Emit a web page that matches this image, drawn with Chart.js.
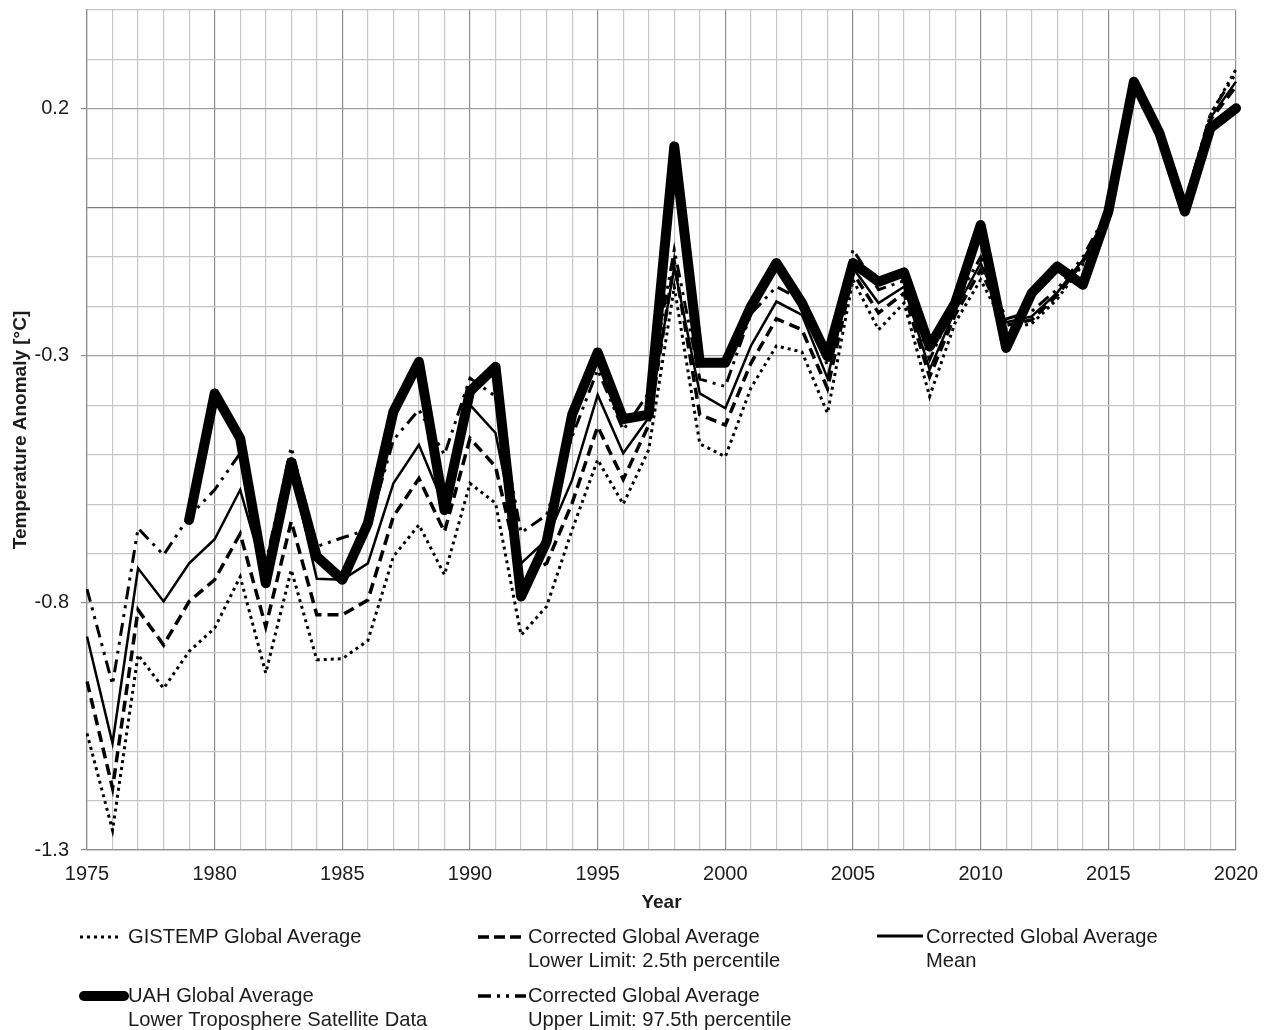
<!DOCTYPE html>
<html>
<head>
<meta charset="utf-8">
<title>Global temperature anomaly 1975–2020</title>
<script src="https://cdn.jsdelivr.net/npm/chart.js@4.4.0/dist/chart.umd.min.js"></script>
<style>
  html, body { margin: 0; padding: 0; background: #ffffff; }
  #wrap { position: relative; width: 1271px; height: 1030px; overflow: hidden; }
  #box { position: absolute; left: 0; top: 0; width: 1271px; height: 1030px; }
  .leg { position: absolute; font-family: "Liberation Sans", Arial, sans-serif; font-size: 21px;
         line-height: 24px; color: #1c1c1c; }
  .leg svg { position: absolute; left: 0; overflow: visible; }
  .leg .t { position: absolute; white-space: nowrap; transform: scaleX(0.96); transform-origin: 0 0; }
</style>
</head>
<body>
<div id="wrap">
  <div id="box"><canvas id="chart"></canvas></div>

  <div class="leg" style="left:78px; top:924px;">
    <svg width="46" height="24"><line x1="2" y1="13" x2="44" y2="13" stroke="#000" stroke-width="3" stroke-dasharray="3 4"/></svg>
    <div class="t" style="left:50px;">GISTEMP Global Average</div>
  </div>
  <div class="leg" style="left:478px; top:924px;">
    <svg width="46" height="24"><line x1="0" y1="13" x2="44" y2="13" stroke="#000" stroke-width="3.5" stroke-dasharray="11 5"/></svg>
    <div class="t" style="left:50px;">Corrected Global Average<br>Lower Limit: 2.5th percentile</div>
  </div>
  <div class="leg" style="left:877px; top:924px;">
    <svg width="46" height="24"><line x1="0" y1="12" x2="46" y2="12" stroke="#000" stroke-width="3"/></svg>
    <div class="t" style="left:49px;">Corrected Global Average<br>Mean</div>
  </div>
  <div class="leg" style="left:78px; top:983px;">
    <svg width="50" height="24"><line x1="6" y1="13" x2="46" y2="13" stroke="#000" stroke-width="10" stroke-linecap="round"/></svg>
    <div class="t" style="left:50px;">UAH Global Average<br>Lower Troposphere Satellite Data</div>
  </div>
  <div class="leg" style="left:478px; top:983px;">
    <svg width="50" height="24"><line x1="0" y1="13" x2="48" y2="13" stroke="#000" stroke-width="3.5" stroke-dasharray="13 6 3 6 3 6"/></svg>
    <div class="t" style="left:50px;">Corrected Global Average<br>Upper Limit: 97.5th percentile</div>
  </div>
</div>

<script>
// Years on the horizontal axis
const years = [
  '1975','1976','1977','1978','1979','1980','1981','1982','1983','1984',
  '1985','1986','1987','1988','1989','1990','1991','1992','1993','1994',
  '1995','1996','1997','1998','1999','2000','2001','2002','2003','2004',
  '2005','2006','2007','2008','2009','2010','2011','2012','2013','2014',
  '2015','2016','2017','2018','2019','2020'
];

// Temperature anomaly series [°C]
const gistemp = [
  -1.064, -1.260, -0.905, -0.973, -0.898, -0.851, -0.747, -0.942, -0.733, -0.915,
  -0.913, -0.876, -0.706, -0.642, -0.743, -0.558, -0.598, -0.865, -0.807, -0.652,
  -0.510, -0.600, -0.490, -0.160, -0.478, -0.504, -0.365, -0.280, -0.292, -0.416,
  -0.146, -0.247, -0.193, -0.382, -0.233, -0.146, -0.245, -0.235, -0.185, -0.115,
  -0.012,  0.245,  0.155,  0.010,  0.188,  0.280
];

const correctedLower = [
  -0.959, -1.175, -0.814, -0.885, -0.797, -0.753, -0.660, -0.848, -0.635, -0.824,
  -0.824, -0.794, -0.625, -0.548, -0.656, -0.467, -0.524, -0.747, -0.720, -0.598,
  -0.443, -0.550, -0.440, -0.110, -0.419, -0.440, -0.315, -0.225, -0.247, -0.366,
  -0.132, -0.213, -0.173, -0.342, -0.217, -0.126, -0.238, -0.227, -0.177, -0.110,
  -0.012,  0.242,  0.150,  0.008,  0.178,  0.245
];

const correctedMean = [
  -0.868, -1.084, -0.730, -0.797, -0.720, -0.671, -0.571, -0.753, -0.530, -0.751,
  -0.753, -0.720, -0.558, -0.480, -0.605, -0.399, -0.456, -0.720, -0.672, -0.551,
  -0.379, -0.497, -0.425, -0.120, -0.376, -0.406, -0.280, -0.190, -0.217, -0.345,
  -0.122, -0.193, -0.160, -0.328, -0.207, -0.112, -0.232, -0.220, -0.172, -0.106,
  -0.010,  0.248,  0.155,  0.004,  0.182,  0.255
];

const correctedUpper = [
  -0.772, -0.965, -0.649, -0.703, -0.625, -0.571, -0.497, -0.720, -0.485, -0.686,
  -0.668, -0.652, -0.470, -0.409, -0.500, -0.345, -0.382, -0.658, -0.622, -0.463,
  -0.328, -0.450, -0.375, -0.085, -0.347, -0.362, -0.215, -0.160, -0.187, -0.320,
  -0.085, -0.166, -0.148, -0.308, -0.193, -0.100, -0.225, -0.210, -0.165, -0.100,
  -0.005,  0.250,  0.160,  0.012,  0.190,  0.272
];

// Satellite record starts in 1979
const uah = [
   null,   null,   null,   null, -0.632, -0.376, -0.467, -0.760, -0.515, -0.706,
  -0.753, -0.639, -0.413, -0.312, -0.612, -0.372, -0.322, -0.787, -0.676, -0.419,
  -0.293, -0.428, -0.419,  0.124, -0.314, -0.314, -0.200, -0.112, -0.193, -0.301,
  -0.112, -0.150, -0.131, -0.281, -0.193, -0.035, -0.284, -0.173, -0.119, -0.156,
  -0.008,  0.255,  0.151, -0.008,  0.161,  0.201
];

// Labelled y ticks (tenths of a degree)
const yLabelTenths = [-13, -8, -3, 2];

const FONT = '"Liberation Sans", Arial, sans-serif';
const INK = '#1c1c1c';

new Chart(document.getElementById('chart'), {
  type: 'line',
  data: {
    labels: years,
    datasets: [
      { label: 'UAH Global Average', data: uah, borderColor: '#000', borderWidth: 10,
        borderJoinStyle: 'round', borderCapStyle: 'round', order: 5 },
      { label: 'GISTEMP Global Average', data: gistemp, borderColor: '#000', borderWidth: 3,
        borderDash: [3, 4], order: 4 },
      { label: 'Corrected Global Average Lower Limit', data: correctedLower, borderColor: '#000',
        borderWidth: 3.5, borderDash: [11, 6], order: 3 },
      { label: 'Corrected Global Average Upper Limit', data: correctedUpper, borderColor: '#000',
        borderWidth: 3, borderDash: [13, 6, 3, 6, 3, 6], order: 2 },
      { label: 'Corrected Global Average Mean', data: correctedMean, borderColor: '#000',
        borderWidth: 2.5, order: 1 }
    ]
  },
  options: {
    responsive: true,
    maintainAspectRatio: false,
    animation: false,
    events: [],
    elements: { point: { radius: 0 }, line: { tension: 0, fill: false } },
    layout: { padding: { left: 0, top: 10, right: 35, bottom: 116 } },
    plugins: { legend: { display: false }, tooltip: { enabled: false } },
    scales: {
      x: {
        type: 'category',
        offset: false,
        ticks: {
          autoSkip: false, maxRotation: 0, minRotation: 0, padding: 12, color: INK,
          font: { family: FONT, size: 20 },
          callback: (v, i) => (i % 5 === 0 ? years[i] : '')
        },
        grid: {
          offset: false, drawTicks: false, lineWidth: 1.2,
          color: c => (c.index % 5 === 0 ? '#8e8e8e' : '#c6c6c6')
        },
        border: { color: '#8e8e8e', width: 1.2 },
        title: { display: true, text: 'Year', color: INK, padding: 0,
                 font: { family: FONT, size: 19, weight: 'bold' } },
        afterFit: s => { s.height = 64; }
      },
      y: {
        min: -1.3, max: 0.4,
        ticks: {
          stepSize: 0.1, autoSkip: false, padding: 12, color: INK,
          font: { family: FONT, size: 20 },
          callback: v => (yLabelTenths.includes(Math.round(v * 10)) ? v.toFixed(1) : '')
        },
        grid: {
          lineWidth: 1.2, tickLength: 6,
          color: c => {
            const k = Math.round(c.tick.value * 10);
            if (k === 0) return '#7c7c7c';
            return yLabelTenths.includes(k) ? '#a2a2a2' : '#c6c6c6';
          },
          tickColor: c => (yLabelTenths.includes(Math.round(c.tick.value * 10)) ? '#8e8e8e' : 'rgba(0,0,0,0)')
        },
        border: { color: '#8e8e8e', width: 1.2 },
        title: { display: true, text: 'Temperature Anomaly [°C]', color: INK,
                 padding: { top: 9, bottom: 0 },
                 font: { family: FONT, size: 19, weight: 'bold' } },
        afterFit: s => { s.width = 87; s.paddingTop = 0; s.paddingBottom = 0; }
      }
    }
  }
});
</script>
</body>
</html>
